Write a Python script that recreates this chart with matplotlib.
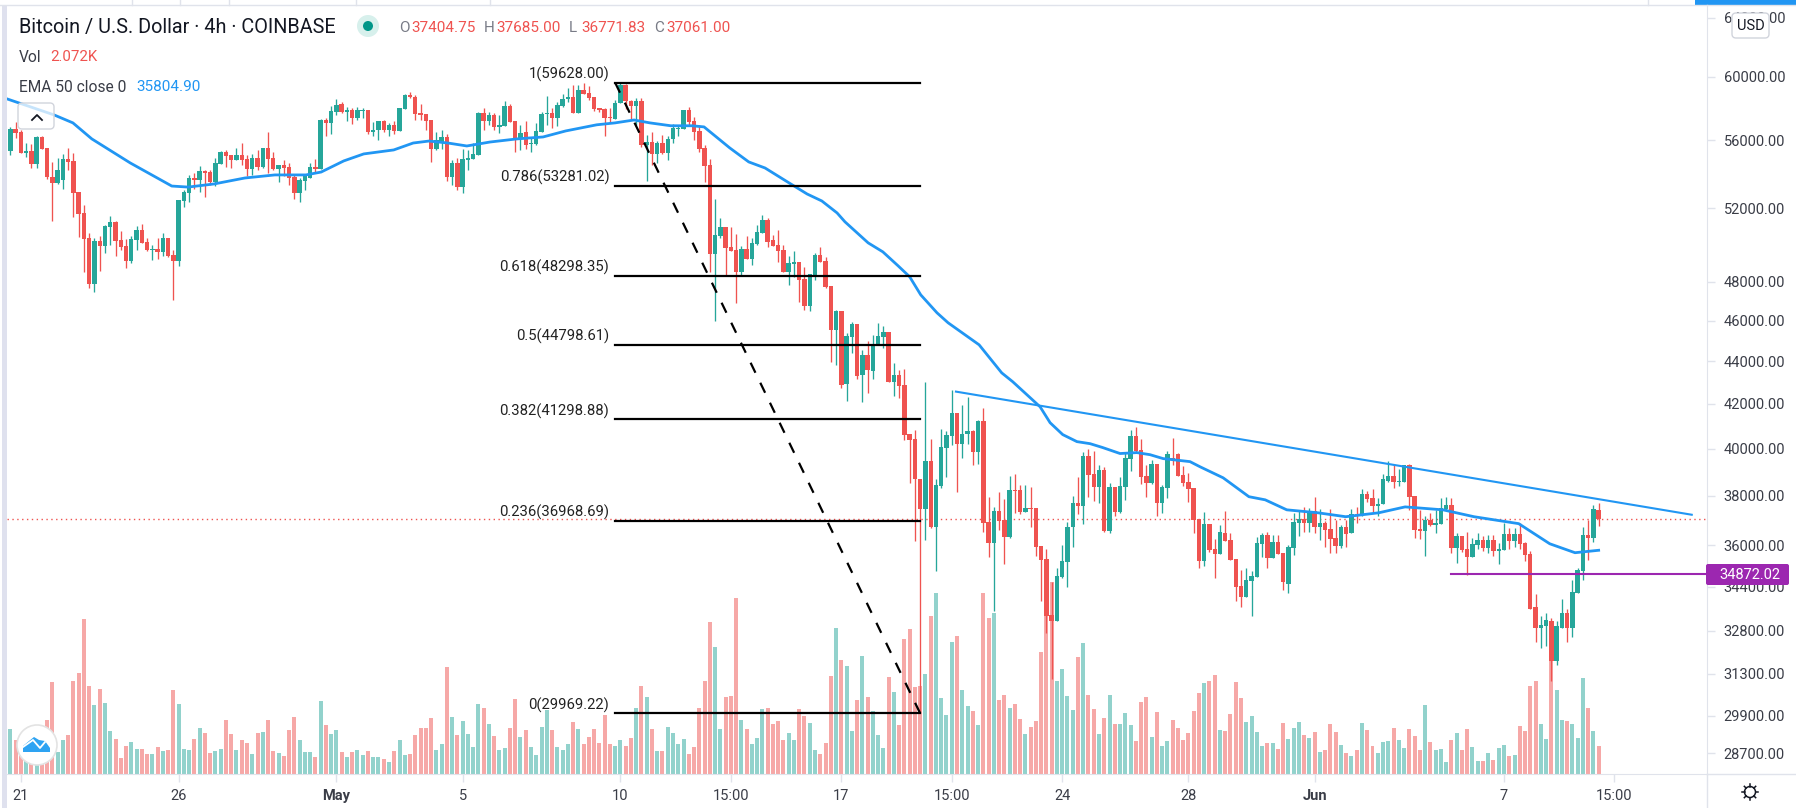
import numpy as np
import matplotlib
matplotlib.use("Agg")
import matplotlib.pyplot as plt
from matplotlib.patches import Circle, FancyBboxPatch, Polygon, Rectangle

plt.rcParams['font.family'] = ['Roboto', 'DejaVu Sans']

# 4h candles, one value per candle
open_prices = [
    55350,56700,56510,55230,55350,54570,56200,55530,53800,53450,53630,54870,54750,52930,51730,50340,47880,50180,49900,50950,
    51230,50230,49900,49100,50230,50780,50120,49690,49740,49580,50340,49420,49100,52410,52870,53740,53630,54150,54090,53510,
    54570,55290,55110,54810,55110,54870,54270,54930,54390,55530,54930,54270,54510,54390,53800,52870,53570,53740,54390,54270,
    57250,57070,57760,
    58270,57760,57890,57380,57820,57890,56510,56640,57190,56640,56950,56570,57950,58830,58700,57700,57640,57250,55470,55890,
    56200,53800,54630,53210,54810,54870,55110,57700,57190,57570,56820,56890,58140,57190,56140,56510,55770,55770,56510,57640,
    57700,57380,58140,58580,58700,57700,59160,58960,58700,58010,57950,57440,57320,58330,59480,58450,58140,58450,
    55710,55890,55170,55830,55230,56080,56700,56700,57890,57190,56570,55530,54510,49480,50450,50950,49850,49690,48510,49740,
    49200,50010,50620,51340,50230,49960,49690,48510,48940,49040,48140,46740,48350,49420,49100,47780,45540,46490,42930,45190,
    45840,43360,44320,43540,44800,45190,45440,43030,43360,42890,40660,40440,38710,37460,39480,36740,38410,40050,40570,41600,
    40220,40660,40790,39870,41240,36940,36100,37380,37020,36340,38250,38250,37340,37500,37500,35990,35480,33380,33130,34790,
    35360,36740,37710,37580,39690,38920,38370,39090,36580,38370,37340,38370,39570,40570,39960,38840,38540,39350,37710,38330,
    39610,39790,38880,38590,38330,37060,35400,36860,35870,35670,36500,36220,35480,34450,34040,34640,34790,36060,36420,35520,
    36140,35710,34530,35910,36900,37060,36900,37380,36740,36900,36660,36300,35990,36740,36500,37260,37220,38080,37910,37580,
    37670,38630,38840,38590,38590,39300,38000,36660,36580,37020,36820,36860,37460,37630,35910,36380,35870,35560,36020,36220,
    35910,36220,35790,35830,36460,36180,36460,36100,35670,33640,32880,32980,33160,31740,32910,33450,32910,34190,35020,36420,
    36300,37404.75,
]
close_prices = [
    56700,56450,55230,55350,54570,56200,55470,53800,53450,54210,54870,54690,52870,51670,50290,47880,50180,49900,51010,51230,
    50180,49850,49100,50290,50780,50070,49690,49740,49580,50340,49370,49100,52470,52930,53740,53630,54150,54030,53510,54630,
    55290,55050,54810,55110,54810,54270,54930,54390,55530,54870,54270,54510,54330,53740,52870,53630,53860,54390,54270,57250,
    57070,57820,58220,
    57760,57890,57380,57890,57890,56510,56640,57190,56640,56950,56570,58010,58830,58700,57640,57570,57190,55470,56020,56200,
    53800,54630,53210,54870,54930,55170,57700,57190,57570,56820,56950,58140,57130,56140,56450,55710,55830,56570,57640,57700,
    57380,58200,58580,58700,57700,59160,58900,58640,57950,57890,57380,57380,58330,59480,58450,58140,58450,55710,
    55890,55170,55830,55230,56080,56770,56770,57890,57130,56510,55470,54450,49480,50500,50950,49800,49640,48510,49740,49200,
    50070,50670,51340,50120,49900,49640,48510,48990,49040,48090,46740,48410,49420,49040,47730,45540,46490,42890,45240,45840,
    43310,44320,43590,44850,45240,45440,43030,43360,42840,40620,40390,38710,37460,39480,36740,38460,40090,40620,41600,40220,
    40660,40790,39870,41240,36900,36100,37380,36980,36340,38250,38210,37340,37500,37460,35950,35440,33340,33130,34830,35400,
    36740,37710,37580,39690,38880,38370,39090,36580,38370,37340,38410,39610,40570,39920,38800,38540,39350,37710,38370,39790,
    39570,38840,38540,38290,37020,35400,36860,35830,35670,36540,36180,35440,34410,34040,34680,34830,36100,36420,35520,36140,
    35670,34570,35950,36940,37060,36900,37380,36740,36900,36620,36260,35990,36740,36460,37260,37220,38080,37870,37580,37670,
    38710,38840,38590,38630,39300,37960,36620,36580,37020,36820,36900,37500,37630,35910,36380,35830,35560,36060,36220,35910,
    36220,35790,35870,36460,36180,36460,36060,35640,33600,32880,33020,33200,31740,32950,33450,32910,34230,35060,36420,36300,
    37460,37061.00,
]
high_prices = [
    56820,57130,56640,55830,55770,56260,56260,55530,54690,54930,55170,55530,55230,52930,52190,50620,50340,50450,51060,51560,
    51280,50730,50290,50450,51010,51120,50340,49960,50340,50620,50340,49690,52470,53040,53920,54030,54450,54210,54210,54930,
    55350,55410,55110,55530,55830,55110,55170,55410,55530,56510,55290,54510,54810,54630,53920,53740,53860,54630,54870,57320,
    57380,58140,58580,
    58390,58070,58010,58070,58010,57890,57130,57190,57250,57070,57190,58010,58900,59030,58830,58270,57640,57250,56510,56640,
    56390,54810,54930,55470,55410,55830,57760,58010,57760,57700,57570,58450,58270,57190,56950,57190,56140,57070,57760,58770,
    58010,58390,58900,59280,59480,59480,59610,59410,58700,58010,58010,58010,58520,59610,59540,58520,58640,58640,
    56330,56510,55950,56330,56260,57010,56950,57890,58070,57440,56950,55710,54870,52520,51450,50950,50950,50560,49900,50450,
    50340,51060,51620,51450,50500,50780,49960,49370,49640,49040,48780,48410,49530,49850,49310,47780,46540,46490,45390,45940,
    45840,44560,44990,45290,45890,45740,45440,43930,43590,43640,40660,40840,38710,43030,40440,38710,40880,40790,42660,41600,
    41960,42330,40840,41280,41820,37960,37540,38170,37870,38840,38920,38460,38460,38370,37500,35990,35870,34570,35130,36020,
    36940,38000,38800,39870,40000,39920,39300,39220,38540,38370,38800,39830,40840,40970,40440,39300,39520,39350,38460,39920,
    40480,39830,39260,38960,38330,37060,37340,36860,36260,36820,37380,36500,35480,35060,35130,35020,36340,36500,36540,36420,
    36420,35710,36020,37300,37380,37540,37500,37960,37460,36980,37460,37020,36820,37020,37460,37540,38290,38210,38290,37910,
    38920,39480,39350,39130,39300,39350,38000,37420,37180,37300,37420,37910,37960,37910,36500,36380,36540,36300,36500,36380,
    36420,36420,36100,36900,36700,36700,36900,36140,35790,34120,33310,33420,33270,33130,33970,33600,34680,35130,36740,37020,
    37630,37685.00,
]
low_prices = [
    55110,56140,55230,54990,54330,54330,55470,53690,51280,53390,53100,54210,51500,50400,48510,47670,47470,48560,49530,49960,
    49370,49690,48720,48990,49690,50070,49640,49150,49200,49370,49310,47050,48830,52070,52350,53100,52930,52640,53330,53270,
    54570,54390,54330,54810,54510,53860,53920,54210,54330,54030,54210,53510,53860,53330,52520,52350,53040,53740,54090,54270,
    56260,56390,57570,
    57700,57190,57010,57250,57380,56390,56260,56020,56510,56260,56390,56570,57950,58640,57250,57250,56640,54690,55410,55470,
    53570,53330,53040,52870,54210,54870,55110,56640,56950,56640,56450,56890,57130,55290,55410,55470,55290,55710,56510,56950,
    56770,56890,58070,58390,57700,57700,58900,58520,57820,57760,56260,57130,57320,58330,57950,57250,56950,55590,
    53570,54510,54630,55170,54810,55830,56260,56700,56950,56020,55290,53510,48510,45990,50340,48350,49640,46900,48300,49200,
    48880,49960,50620,49850,49900,49040,48510,47830,48250,46950,46540,46490,48090,49040,47670,43970,43830,42750,42140,44410,
    43170,42100,42520,43170,44800,44660,43030,42380,42280,40390,38540,36180,29969.22,36220,36700,35020,38330,38800,40180,38170,
    39610,40220,39300,39350,36540,35560,33520,36620,35290,36300,37300,37260,37340,36740,35600,33890,32700,31130,33130,34720,
    34410,35950,37260,36860,37960,37790,37710,36540,36500,37180,37300,37830,39050,39830,38500,37960,38500,37180,37300,37910,
    39300,38840,38410,37750,36500,35130,35210,35750,34720,35670,36180,35440,33860,33670,34040,33340,34760,35560,35130,35520,
    35670,34300,34190,35640,36380,36540,36540,36500,36220,35950,35710,35710,35910,35950,36500,36900,37180,37750,37340,37180,
    37670,38590,38330,38410,38590,37420,36300,36260,35600,36780,36500,36860,37420,35710,35330,35750,34870,35560,35870,35790,
    35710,35600,35290,35830,35870,35950,35870,35400,33600,32410,32200,32270,31030,31610,32910,32410,32590,34190,34680,35440,
    36140,36771.83,
]
# volume in thousands
volumes = [
    3.33,2.52,1.5,1.1,1.5,1.3,1.9,4.0,6.82,1.63,2.52,2.89,6.89,7.48,11.49,6.52,5.11,6.3,5.26,3.19,
    2.59,1.19,2.07,2.37,1.85,1.85,1.48,1.48,2.0,1.7,1.78,6.22,5.19,1.85,1.78,2.59,3.41,3.04,1.56,1.7,
    1.85,4.0,2.96,1.78,2.52,2.3,1.48,3.04,3.11,4.0,1.7,1.56,1.33,3.26,4.22,2.52,1.63,1.63,1.26,5.41,
    3.63,2.96,3.26,1.63,1.26,1.63,1.78,1.41,1.7,1.26,1.26,1.11,0.89,1.7,2.52,1.41,1.48,2.89,3.41,3.41,
    4.15,1.78,2.22,7.93,4.22,2.89,3.93,2.96,2.0,5.19,4.89,3.7,2.82,1.78,1.93,3.41,5.56,2.74,3.26,2.0,
    1.41,3.48,4.74,3.26,2.0,1.78,2.22,3.85,3.33,2.22,2.74,3.33,2.3,4.37,2.22,2.07,2.52,2.07,2.67,4.89,
    6.52,5.71,3.33,1.7,1.7,3.48,3.04,2.22,2.59,1.48,2.0,4.89,6.89,11.26,9.41,3.33,5.71,5.78,13.04,4.0,
    3.33,2.22,2.67,4.82,4.89,3.7,3.93,2.52,3.04,2.52,4.82,4.3,3.78,1.78,1.48,2.3,7.26,10.82,8.45,8.0,
    3.19,5.48,8.74,5.71,4.67,2.89,1.93,7.19,6.08,3.63,10.0,10.74,6.45,6.52,7.41,11.71,13.41,5.63,4.37,9.78,
    10.23,6.22,5.04,4.67,3.63,13.41,11.56,11.93,5.48,5.85,4.89,5.19,4.08,2.96,3.48,3.93,9.04,11.8,14.2,6.89,
    7.78,5.78,4.74,8.67,9.71,5.85,4.82,2.96,4.15,5.85,3.7,3.7,4.52,3.63,2.45,5.34,5.71,2.74,4.59,2.07,
    2.45,4.0,3.41,2.52,3.04,4.67,6.0,6.74,6.89,7.34,3.26,3.19,4.45,6.82,5.63,3.85,4.3,3.11,2.07,2.3,
    2.3,1.85,3.78,2.59,3.41,3.85,2.89,2.67,3.11,1.63,1.78,3.7,3.11,2.15,1.56,1.33,1.78,3.78,3.26,2.07,
    1.56,2.37,2.45,3.41,2.52,1.93,3.33,2.82,1.78,5.11,2.37,1.78,1.85,0.89,2.52,3.04,1.78,3.33,2.0,0.96,
    0.96,1.56,1.04,1.93,2.15,1.33,1.41,3.56,3.19,6.52,6.89,3.7,2.59,9.25,6.22,4.0,3.92,3.7,2.66,7.1,
    4.88,3.18,2.072,
]

# EMA 50
ema_index = [-0.6,8.3,11.9,15.5,22.8,30.7,33.8,38.7,44.6,50.3,56.2,59.1,63.4,67.2,72.9,76.6,79.6,83.2,86.8,91.2,
    96.3,101.3,105.6,111.5,115,118.6,121.6,125.6,129.6,131.9,136.8,140.4,143.5,148.4,151.5,154.3,157.2,158.7,163.1,165.9,
    168.8,171,173.1,176.2,178.3,184.2,188.5,190.6,195.8,197.7,200.1,202.8,205.3,207.7,211,214.2,216.7,219.2,224.3,226.2,
    230.6,235.5,238.6,242.7,248.6,253.9,260.2,265.2,272.4,278.3,286.8,292.7,297.5,302]
ema_values = [58580,57570,57070,56080,54630,53270,53210,53390,53740,53920,53920,54090,54750,55170,55410,55830,55950,55830,55650,55890,
    56080,56200,56570,56950,57070,57250,57070,56890,56890,56820,55530,54690,54330,53390,52810,52410,51730,51230,50070,49580,
    48830,48250,47310,46390,45890,44800,43450,43030,41870,41150,40620,40310,40220,40050,39790,39830,39740,39570,39440,39220,
    38750,37960,37830,37420,37300,37140,37300,37540,37420,37140,36860,36060,35710,35804.90]

fib_ratios = ['1', '0.786', '0.618', '0.5', '0.382', '0.236', '0']
fib_prices = [59628.00, 53281.02, 48298.35, 44798.61, 41298.88, 36968.69, 29969.22]
fib_start = 115
fib_end = 173

trend_index = [179.8, 319.7]
trend_prices = [42570, 37220]
support_start = 273.9
support_price = 34872.02
last_price = 37061.00

price_ticks = [64000,60000,56000,52000,48000,46000,44000,42000,40000,38000,36000,34400,32800,31300,29900,28700]
date_ticks = [2,32,62,86,116,137,158,179,200,224,248,284,305]
date_labels = ['21','26','May','5','10','15:00','17','15:00','24','28','Jun','7','15:00']

UP = '#26a69a'
DOWN = '#ef5350'
BLUE = '#2196f3'
PURPLE = '#9c27b0'
LINE = '#e0e3eb'
TEXT = '#3a3d47'

W, H = 1796, 808
fig = plt.figure(figsize=(W / 100, H / 100), dpi=100, facecolor='white')

left, right, top, bottom = 7, 1707, 5, 774
pos = [left / W, 1 - bottom / H, (right - left) / W, (bottom - top) / H]

n = len(close_prices)
idx = np.arange(n)
o = np.array(open_prices)
h = np.array(high_prices)
l = np.array(low_prices)
c = np.array(close_prices)
colors = [UP if c[i] >= o[i] else DOWN for i in range(n)]

# volume underneath, own linear scale
ax_vol = fig.add_axes(pos)
ax_vol.bar(idx, volumes, width=0.76, color=colors, alpha=0.5, linewidth=0)
ax_vol.set_xlim(-0.63, 322.6)
ax_vol.set_ylim(0, 56.9)
ax_vol.set_xticks([])
ax_vol.set_yticks([])
for s in ax_vol.spines.values():
    s.set_visible(False)

# price, log scale
ax = fig.add_axes(pos)
ax.patch.set_visible(False)
ax.set_yscale('log')
ax.set_xlim(-0.63, 322.6)
ax.set_ylim(28052, 64900)

ax.axhline(last_price, color=DOWN, lw=1, ls=(0, (1, 2.5)), zorder=1)
ax.vlines(idx, l, h, colors=colors, lw=0.95, zorder=2)
ax.bar(idx, np.abs(c - o), bottom=np.minimum(o, c), width=0.84, color=colors, linewidth=0, zorder=3)

ax.plot(ema_index, ema_values, color=BLUE, lw=2.0, zorder=4)
ax.plot(trend_index, trend_prices, color=BLUE, lw=1.5, zorder=4)
ax.plot([support_start, 322.6], [support_price, support_price], color=PURPLE, lw=1.5, zorder=4)

for ratio, price in zip(fib_ratios, fib_prices):
    ax.plot([fib_start, fib_end], [price, price], color='black', lw=1.6, zorder=5)
    ax.annotate('%s(%.2f)' % (ratio, price), (113.9, price), xytext=(0, 6), textcoords='offset points',
                ha='right', va='center', fontsize=10.7, color='#222222')
ax.plot([fib_start, fib_end], [fib_prices[0], fib_prices[-1]], color='black', lw=1.6, ls=(0, (5, 5)), zorder=5)

ax.yaxis.tick_right()
ax.set_yticks(price_ticks)
ax.set_yticklabels(['%.2f' % p for p in price_ticks])
ax.minorticks_off()
ax.set_xticks(date_ticks)
ax.set_xticklabels(date_labels)
ax.tick_params(axis='y', length=6, width=1, color=LINE, labelsize=10.5, labelcolor=TEXT, pad=6)
ax.tick_params(axis='x', length=6, width=1, color=LINE, labelsize=10.5, labelcolor=TEXT, pad=5)
for lab in ax.get_xticklabels():
    if lab.get_text() in ('May', 'Jun'):
        lab.set_fontweight('bold')
ax.spines['top'].set_visible(False)
ax.spines['left'].set_visible(False)
ax.spines['right'].set_color(LINE)
ax.spines['bottom'].set_color(LINE)

# overlay in pixel coordinates for the header and the chart buttons
ui = fig.add_axes([0, 0, 1, 1])
ui.set_xlim(0, W)
ui.set_ylim(H, 0)
ui.axis('off')
ui.patch.set_visible(False)

ui.add_patch(Rectangle((2, 5), 5, H - 5, color='#dfe1ee', lw=0))
ui.plot([0, 1707], [5, 5], color=LINE, lw=1)
ui.plot([1707, W], [5, 5], color=LINE, lw=1)
ui.plot([1707, 1707], [774, H], color=LINE, lw=1)
ui.plot([1707, W], [774, 774], color=LINE, lw=1)
for x in [132, 180, 229, 356, 490, 1648]:
    ui.plot([x, x], [0, 5], color=LINE, lw=1)
ui.add_patch(Rectangle((1695, 0), W - 1695, 5, color=BLUE, lw=0))

ui.text(19, 27, 'Bitcoin / U.S. Dollar · 4h · COINBASE', fontsize=14.3, color='#131722', va='center')
ui.add_patch(Circle((368, 26), 11, color='#d7f0ec', lw=0))
ui.add_patch(Circle((368, 26), 5, color='#009688', lw=0))
for x, name, val in [(399, 'O', '37404.75'), (484, 'H', '37685.00'), (569, 'L', '36771.83'), (654, 'C', '37061.00')]:
    ui.text(x, 28, name, fontsize=11, color='#787b86', va='center')
    ui.text(x + 12, 28, val, fontsize=11, color=DOWN, va='center')
ui.text(19, 57, 'Vol', fontsize=11.2, color=TEXT, va='center')
ui.text(50, 57, '2.072K', fontsize=10.8, color=DOWN, va='center')
ui.text(19, 87, 'EMA 50 close 0', fontsize=11.2, color=TEXT, va='center')
ui.text(136, 87, '35804.90', fontsize=11, color=BLUE, va='center')

ui.add_patch(FancyBboxPatch((20, 105), 32, 22, boxstyle='round,pad=2,rounding_size=4',
                            facecolor=(1, 1, 1, 0.75), edgecolor='#d1d4dc', lw=1))
ui.plot([32, 37, 42], [120, 115, 120], color='#131722', lw=1.3)

ui.add_patch(FancyBboxPatch((1734, 15), 33, 21, boxstyle='round,pad=2,rounding_size=4',
                            facecolor='white', edgecolor='#d1d4dc', lw=1))
ui.text(1750.5, 26, 'USD', fontsize=10.5, color='#131722', ha='center', va='center')

ui.add_patch(FancyBboxPatch((1708, 566), 79, 17, boxstyle='round,pad=2,rounding_size=2',
                            facecolor=PURPLE, edgecolor='none'))
ui.text(1750, 575, '%.2f' % support_price, fontsize=10.5, color='white', ha='center', va='center')

# logo
ui.add_patch(Circle((37, 745), 20, facecolor='white', edgecolor='#e3e3e3', lw=1.2))
ui.add_patch(Polygon([(23, 752), (23, 746), (29, 741), (34, 737), (39, 740), (45, 741), (50, 748), (50, 752)],
                     closed=True, color='#2ea3f2', lw=0))
ui.plot([23, 33, 40, 45], [747, 740, 748, 742], color='white', lw=1.3)

# settings gear
ui.add_patch(Circle((1750, 792), 5.5, facecolor='white', edgecolor='#131722', lw=1.1))
for a in np.arange(0, 360, 45):
    dx, dy = np.cos(np.radians(a)), np.sin(np.radians(a))
    ui.plot([1750 + 5.5 * dx, 1750 + 8 * dx], [792 + 5.5 * dy, 792 + 8 * dy], color='#131722', lw=1.1)

fig.savefig('out.png', dpi=100)
